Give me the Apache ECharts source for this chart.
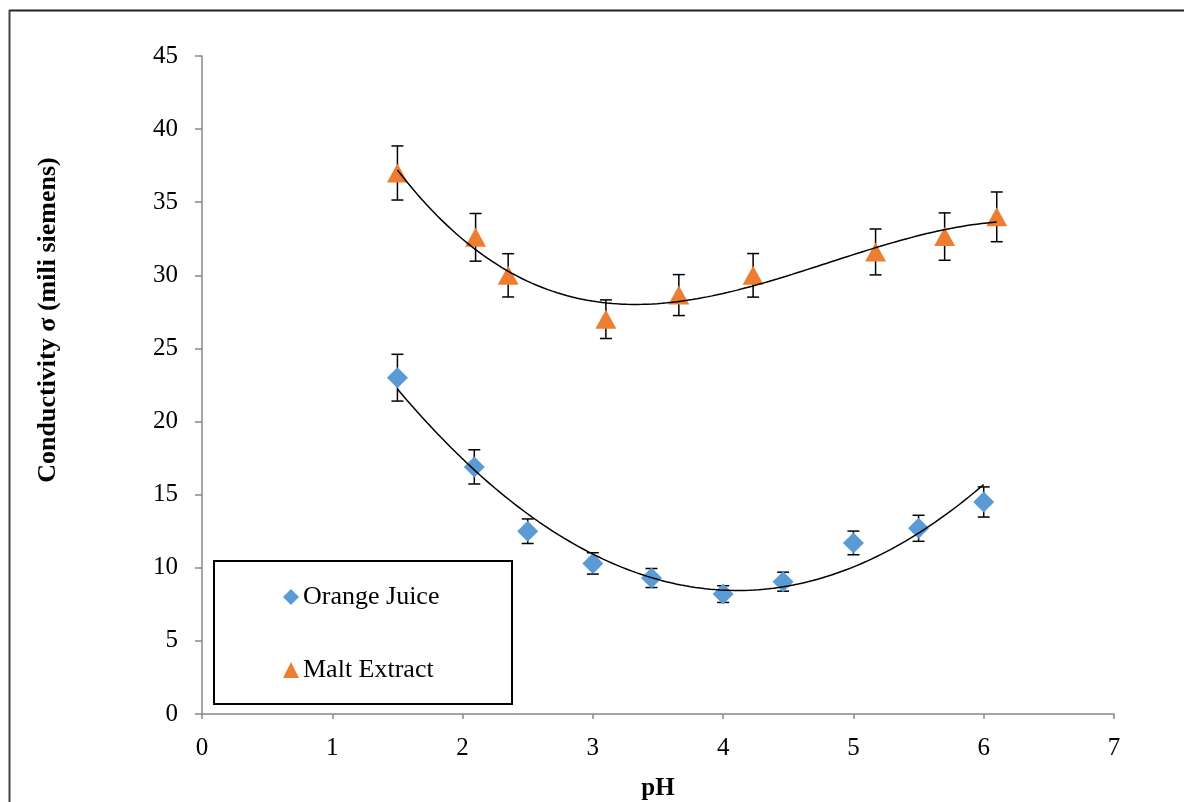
<!DOCTYPE html>
<html>
<head>
<meta charset="utf-8">
<script src="https://cdn.jsdelivr.net/npm/echarts@6/dist/echarts.min.js"></script>
<style>
  html, body { margin: 0; padding: 0; background: #fff; }
  #chart { width: 1184px; height: 802px; }
</style>
</head>
<body>
<div id="chart"></div>
<script>
// 数据
const orangePH = [1.5, 2.09, 2.5, 3.0, 3.45, 4.0, 4.46, 5.0, 5.5, 6.0];
const orangeVal = [23.0, 16.9, 12.5, 10.3, 9.3, 8.2, 9.05, 11.7, 12.7, 14.5];
const orangeErr = [1.6, 1.17, 0.84, 0.73, 0.65, 0.57, 0.65, 0.81, 0.89, 1.03];

const maltPH = [1.5, 2.1, 2.35, 3.1, 3.66, 4.23, 5.17, 5.7, 6.1];
const maltVal = [37.0, 32.6, 30.0, 27.0, 28.65, 30.0, 31.6, 32.65, 34.0];
const maltErr = [1.85, 1.63, 1.48, 1.32, 1.4, 1.49, 1.57, 1.62, 1.7];

const xTicks = [0, 1, 2, 3, 4, 5, 6, 7];
const yTicks = [0, 5, 10, 15, 20, 25, 30, 35, 40, 45];

const FONT = '"Liberation Serif", "Times New Roman", serif';

// least squares polynomial trendline (like Excel)
function polyfit(xs, ys, order) {
  let n = order + 1;
  let A = [];
  for (let i = 0; i < n; i++) {
    A.push(new Array(n + 1).fill(0));
  }
  for (let k = 0; k < xs.length; k++) {
    for (let i = 0; i < n; i++) {
      for (let j = 0; j < n; j++) {
        A[i][j] += Math.pow(xs[k], i + j);
      }
      A[i][n] += ys[k] * Math.pow(xs[k], i);
    }
  }
  for (let i = 0; i < n; i++) {
    let p = i;
    for (let r = i + 1; r < n; r++) if (Math.abs(A[r][i]) > Math.abs(A[p][i])) p = r;
    let t = A[i]; A[i] = A[p]; A[p] = t;
    for (let r = 0; r < n; r++) {
      if (r === i) continue;
      let f = A[r][i] / A[i][i];
      for (let c = i; c <= n; c++) A[r][c] -= f * A[i][c];
    }
  }
  return A.map((row, i) => row[n] / row[i]);
}
function trend(xs, ys, order) {
  let c = polyfit(xs, ys, order);
  let lo = Math.min(...xs), hi = Math.max(...xs);
  let out = [];
  for (let i = 0; i <= 120; i++) {
    let x = lo + (hi - lo) * i / 120;
    let y = 0;
    for (let k = 0; k < c.length; k++) y += c[k] * Math.pow(x, k);
    out.push([x, y]);
  }
  return out;
}

function pairs(xs, ys) {
  return xs.map((x, i) => [x, ys[i]]);
}
function errData(xs, ys, es) {
  return xs.map((x, i) => [x, ys[i] - es[i], ys[i] + es[i]]);
}

function renderErr(params, api) {
  let x = api.value(0);
  let lo = api.coord([x, api.value(1)]);
  let hi = api.coord([x, api.value(2)]);
  let w = 6;
  let style = { stroke: '#000', lineWidth: 1.5 };
  return {
    type: 'group',
    children: [
      { type: 'line', shape: { x1: lo[0], y1: lo[1], x2: hi[0], y2: hi[1] }, style: style },
      { type: 'line', shape: { x1: lo[0] - w, y1: lo[1], x2: lo[0] + w, y2: lo[1] }, style: style },
      { type: 'line', shape: { x1: hi[0] - w, y1: hi[1], x2: hi[0] + w, y2: hi[1] }, style: style }
    ]
  };
}

const chart = echarts.init(document.getElementById('chart'));

const option = {
  backgroundColor: '#fff',
  animation: false,
  grid: { left: 202, right: 70, top: 56, bottom: 88, containLabel: false, outerBoundsMode: 'none' },
  xAxis: {
    type: 'value',
    min: xTicks[0],
    max: xTicks[xTicks.length - 1],
    interval: 1,
    name: 'pH',
    nameLocation: 'middle',
    nameGap: 62,
    nameTextStyle: { fontFamily: FONT, fontSize: 25, fontWeight: 'bold', color: '#000' },
    axisLine: { lineStyle: { color: '#888', width: 1.5 } },
    axisTick: { length: 5, lineStyle: { color: '#888', width: 1.5 } },
    axisLabel: { fontFamily: FONT, fontSize: 25, color: '#000', margin: 22 },
    splitLine: { show: false }
  },
  yAxis: {
    type: 'value',
    min: yTicks[0],
    max: yTicks[yTicks.length - 1],
    interval: 5,
    axisLine: { show: true, lineStyle: { color: '#888', width: 1.5 } },
    axisTick: { show: true, length: 7, lineStyle: { color: '#888', width: 1.5 } },
    axisLabel: { fontFamily: FONT, fontSize: 25, color: '#000', margin: 24 },
    splitLine: { show: false }
  },
  legend: {
    data: [
      { name: 'Orange Juice', icon: 'diamond' },
      { name: 'Malt Extract', icon: 'triangle' }
    ],
    orient: 'vertical',
    left: 283,
    top: 584,
    itemWidth: 16,
    itemHeight: 16,
    itemGap: 47,
    padding: 0,
    selectedMode: false,
    textStyle: { fontFamily: FONT, fontSize: 26, color: '#000', lineHeight: 26, padding: [0, 0, 0, -1] }
  },
  graphic: [
    { type: 'line', shape: { x1: 9, y1: 10.5, x2: 1184, y2: 10.5 }, style: { stroke: '#222', lineWidth: 2 } },
    { type: 'line', shape: { x1: 9.5, y1: 10, x2: 9.5, y2: 802 }, style: { stroke: '#444', lineWidth: 2 } },
    { type: 'rect', z: 0, shape: { x: 214, y: 561, width: 298, height: 143 },
      style: { fill: '#fff', stroke: '#000', lineWidth: 2 } },
    {
      type: 'text', x: 48, y: 320, rotation: Math.PI / 2,
      style: {
        text: 'Conductivity σ (mili siemens)',
        font: 'bold 26px "Liberation Serif", "Times New Roman", serif',
        fill: '#000', align: 'center', verticalAlign: 'middle'
      }
    }
  ],
  series: [
    {
      name: 'orangeErr', type: 'custom', renderItem: renderErr,
      data: errData(orangePH, orangeVal, orangeErr), z: 2
    },
    {
      name: 'maltErr', type: 'custom', renderItem: renderErr,
      data: errData(maltPH, maltVal, maltErr), z: 2
    },
    {
      name: 'Orange Juice', type: 'scatter', symbol: 'diamond', symbolSize: 21,
      itemStyle: { color: '#5B9BD5', opacity: 1 },
      data: pairs(orangePH, orangeVal), z: 3
    },
    {
      name: 'Malt Extract', type: 'scatter', symbol: 'triangle', symbolSize: [21, 19],
      itemStyle: { color: '#ED7D31', opacity: 1 },
      data: pairs(maltPH, maltVal), z: 3
    },
    {
      name: 'orangeTrend', type: 'line', showSymbol: false, symbol: 'none',
      lineStyle: { color: '#000', width: 1.5 },
      data: trend(orangePH, orangeVal, 2), z: 4
    },
    {
      name: 'maltTrend', type: 'line', showSymbol: false, symbol: 'none',
      lineStyle: { color: '#000', width: 1.5 },
      data: trend(maltPH, maltVal, 3), z: 4
    }
  ]
};

chart.setOption(option);
</script>
</body>
</html>
